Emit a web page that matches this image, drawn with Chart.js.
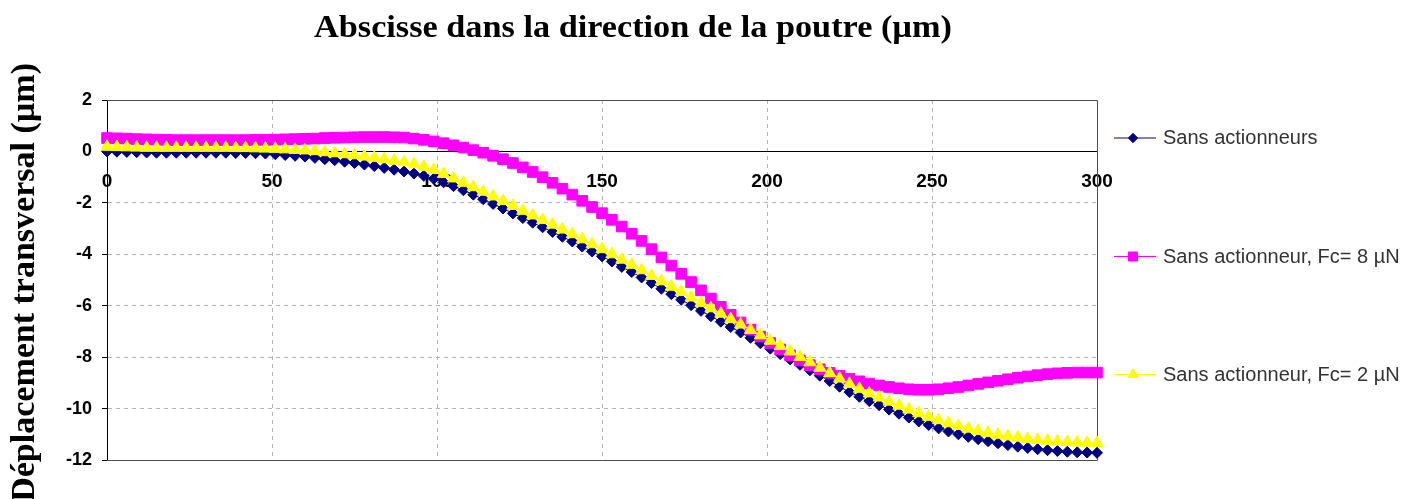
<!DOCTYPE html>
<html lang="fr">
<head>
<meta charset="utf-8">
<title>Déplacement transversal de la poutre</title>
<script src="https://cdn.jsdelivr.net/npm/chart.js@4.4.1/dist/chart.umd.min.js"></script>
<style>
  html, body { margin: 0; padding: 0; background: #fff; }
  #boite { width: 1423px; height: 499px; position: relative; }
</style>
</head>
<body>
<div id="boite"><canvas id="graphique"></canvas></div>
<script>
// abscisses le long de la poutre (µm)
const abscisses = [0,3,6,9,12,15,18,21,24,27,30,33,36,39,42,45,48,51,54,57,60,63,66,69,72,75,78,81,84,87,
  90,93,96,99,102,105,108,111,114,117,120,123,126,129,132,135,138,141,144,147,150,153,156,159,162,165,168,171,174,177,
  180,183,186,189,192,195,198,201,204,207,210,213,216,219,222,225,228,231,234,237,240,243,246,249,252,255,258,261,264,267,
  270,273,276,279,282,285,288,291,294,297,300]

// déplacement transversal (µm)
const sansActionneurs = [0.00,-0.01,-0.02,-0.03,-0.04,-0.05,-0.05,-0.05,-0.05,-0.05,
  -0.05,-0.05,-0.05,-0.06,-0.06,-0.07,-0.08,-0.11,-0.14,-0.17,
  -0.20,-0.25,-0.30,-0.34,-0.40,-0.45,-0.51,-0.57,-0.64,-0.71,
  -0.78,-0.86,-0.95,-1.06,-1.20,-1.35,-1.51,-1.68,-1.86,-2.04,
  -2.22,-2.41,-2.59,-2.77,-2.95,-3.13,-3.32,-3.50,-3.70,-3.89,
  -4.08,-4.28,-4.49,-4.69,-4.90,-5.12,-5.34,-5.55,-5.77,-5.98,
  -6.20,-6.41,-6.62,-6.83,-7.04,-7.25,-7.46,-7.67,-7.88,-8.09,
  -8.30,-8.51,-8.72,-8.93,-9.15,-9.36,-9.54,-9.71,-9.87,-10.04,
  -10.20,-10.35,-10.50,-10.64,-10.77,-10.89,-11.00,-11.10,-11.19,-11.27,
  -11.35,-11.42,-11.48,-11.53,-11.58,-11.62,-11.65,-11.68,-11.70,-11.71,
  -11.72]

const fc8 = [0.52,0.51,0.50,0.48,0.47,0.46,0.45,0.44,0.44,0.44,
  0.44,0.44,0.44,0.44,0.44,0.45,0.45,0.46,0.47,0.48,
  0.49,0.50,0.52,0.53,0.54,0.55,0.56,0.56,0.56,0.55,
  0.54,0.50,0.45,0.39,0.32,0.24,0.15,0.05,-0.05,-0.17,
  -0.30,-0.45,-0.62,-0.80,-1.00,-1.22,-1.45,-1.68,-1.92,-2.16,
  -2.40,-2.66,-2.92,-3.20,-3.48,-3.80,-4.12,-4.44,-4.76,-5.08,
  -5.40,-5.72,-6.04,-6.35,-6.65,-6.93,-7.20,-7.45,-7.70,-7.93,
  -8.13,-8.31,-8.47,-8.61,-8.73,-8.84,-8.94,-9.03,-9.10,-9.16,
  -9.21,-9.25,-9.27,-9.27,-9.25,-9.21,-9.16,-9.10,-9.04,-8.98,
  -8.92,-8.86,-8.80,-8.75,-8.70,-8.66,-8.63,-8.61,-8.60,-8.60,
  -8.60]

const fc2 = [0.18,0.17,0.16,0.15,0.14,0.14,0.14,0.14,0.14,0.14,
  0.14,0.14,0.14,0.13,0.13,0.12,0.11,0.10,0.08,0.06,
  0.04,0.01,-0.03,-0.07,-0.11,-0.15,-0.20,-0.25,-0.30,-0.36,
  -0.42,-0.50,-0.60,-0.72,-0.88,-1.05,-1.22,-1.39,-1.57,-1.75,
  -1.93,-2.12,-2.31,-2.49,-2.67,-2.85,-3.04,-3.22,-3.42,-3.61,
  -3.80,-4.00,-4.21,-4.41,-4.62,-4.84,-5.05,-5.26,-5.47,-5.68,
  -5.89,-6.10,-6.31,-6.52,-6.73,-6.94,-7.15,-7.36,-7.57,-7.78,
  -7.99,-8.20,-8.41,-8.62,-8.83,-9.04,-9.23,-9.41,-9.57,-9.73,
  -9.89,-10.04,-10.18,-10.32,-10.45,-10.57,-10.68,-10.78,-10.87,-10.95,
  -11.02,-11.08,-11.13,-11.18,-11.22,-11.25,-11.28,-11.30,-11.32,-11.33,
  -11.34]

const noms = ['Sans actionneurs', 'Sans actionneur, Fc= 8 µN', 'Sans actionneur, Fc= 2 µN']
const titreX = 'Abscisse dans la direction de la poutre (µm)'
const titreY = 'Déplacement transversal (µm)'


function points(valeurs) {
  return abscisses.map((x, i) => ({ x: x, y: valeurs[i] }))
}

// cadre du graphique (haut, droite, bas)
const cadre = {
  id: 'cadre',
  beforeDatasetsDraw(chart) {
    const { ctx, chartArea: a } = chart
    ctx.save()
    ctx.strokeStyle = '#4d4d4d'
    ctx.lineWidth = 1
    ctx.beginPath()
    ctx.moveTo(a.left, a.top + 0.5)
    ctx.lineTo(a.right + 0.5, a.top + 0.5)
    ctx.lineTo(a.right + 0.5, a.bottom)
    ctx.moveTo(a.left, a.bottom + 0.5)
    ctx.lineTo(a.right + 0.5, a.bottom + 0.5)
    ctx.stroke()
    ctx.restore()
  }
}

// titres des axes, comme dans le classeur
const titres = {
  id: 'titres',
  afterDraw(chart) {
    const ctx = chart.ctx
    ctx.save()
    ctx.fillStyle = '#000'
    ctx.textBaseline = 'alphabetic'
    ctx.textAlign = 'left'

    ctx.font = 'bold 31px "Liberation Serif", serif'
    const w = ctx.measureText(titreX).width
    ctx.save()
    ctx.translate(314, 37)
    ctx.scale(638 / w, 1)
    ctx.fillText(titreX, 0, 0)
    ctx.restore()

    ctx.font = 'bold 34px "Liberation Serif", serif'
    const h = ctx.measureText(titreY).width
    ctx.translate(34, 63 + h)
    ctx.rotate(-Math.PI / 2)
    ctx.fillText(titreY, 0, 0)
    ctx.restore()
  }
}

// légende à droite, espacée comme l'original
const legende = {
  id: 'legende',
  afterDraw(chart) {
    const ctx = chart.ctx
    const lignes = [137.5, 256, 374]
    chart.data.datasets.forEach((ds, i) => {
      const y = lignes[i]
      ctx.save()
      ctx.strokeStyle = ds.borderColor
      ctx.lineWidth = 1
      ctx.beginPath()
      ctx.moveTo(1114, y + 0.5)
      ctx.lineTo(1156, y + 0.5)
      ctx.stroke()
      ctx.fillStyle = ds.pointBackgroundColor
      ctx.strokeStyle = ds.pointBorderColor
      Chart.helpers.drawPoint(ctx, { pointStyle: ds.pointStyle, radius: ds.pointRadius * 0.85, borderWidth: 1, rotation: 0 }, 1133, y + 0.5)
      ctx.fillStyle = '#333'
      ctx.font = '20px "Liberation Sans", Arial, sans-serif'
      ctx.textBaseline = 'middle'
      ctx.fillText(ds.label, 1163, y + 1)
      ctx.restore()
    })
  }
}

function serie(nom, valeurs, couleur, forme, rayon, ordre) {
  return {
    label: nom,
    data: points(valeurs),
    borderColor: couleur,
    backgroundColor: couleur,
    pointBackgroundColor: couleur,
    pointBorderColor: couleur,
    pointBorderWidth: 1,
    pointStyle: forme,
    pointRadius: rayon,
    borderWidth: 1,
    tension: 0,
    clip: false,
    order: ordre
  }
}

const ctx = document.getElementById('graphique').getContext('2d')

new Chart(ctx, {
  type: 'line',
  data: {
    datasets: [
      serie(noms[0], sansActionneurs, '#000080', 'rectRot', 5.5, 3),
      serie(noms[1], fc8, '#ff00ff', 'rect', 7.5, 2),
      serie(noms[2], fc2, '#ffff00', 'triangle', 7, 1)
    ]
  },
  options: {
    responsive: true,
    maintainAspectRatio: false,
    animation: false,
    layout: { padding: { top: 100, right: 326, bottom: 39, left: 0 } },
    plugins: {
      legend: { display: false },
      tooltip: { enabled: false }
    },
    scales: {
      x: {
        type: 'linear',
        position: { y: 0 },
        min: 0,
        max: 300,
        ticks: {
          stepSize: 50,
          padding: 19,
          color: '#000',
          font: { family: '"Liberation Sans", Arial, sans-serif', size: 19, weight: 'bold' }
        },
        grid: {
          drawTicks: false,
          color: c => (c.tick && (c.tick.value === 0 || c.tick.value === 300)) ? 'rgba(0,0,0,0)' : '#b4b4b4'
        },
        border: { display: true, color: '#000', width: 1, dash: [4, 4] }
      },
      y: {
        min: -12,
        max: 2,
        afterFit(scale) { scale.width = 107 },
        ticks: {
          stepSize: 2,
          padding: 10,
          color: '#000',
          font: { family: '"Liberation Sans", Arial, sans-serif', size: 18, weight: 'bold' }
        },
        grid: {
          tickLength: 5,
          tickColor: '#000',
          color: c => (c.tick && (c.tick.value === 2 || c.tick.value === 0 || c.tick.value === -12)) ? 'rgba(0,0,0,0)' : '#b4b4b4'
        },
        border: { display: true, color: '#000', width: 1, dash: [4, 4] }
      }
    }
  },
  plugins: [cadre, titres, legende]
})
</script>
</body>
</html>
